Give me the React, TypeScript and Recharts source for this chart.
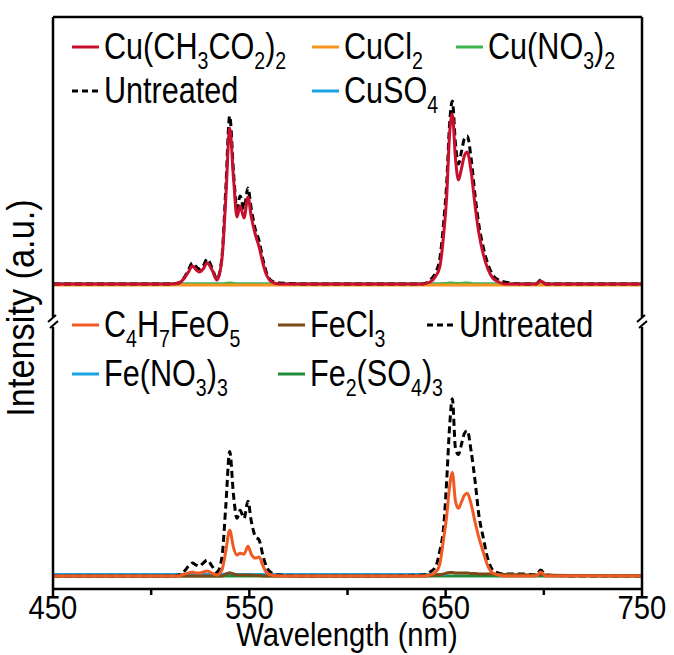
import { LineChart, Line, XAxis, YAxis, ReferenceLine } from "recharts";

// wavelength grid (nm)
const wavelength = [
  450, 480, 510, 514, 517, 519, 521, 523, 524.5, 526.5, 528.5, 531, 533.5, 536, 538, 540,
  542, 543.7, 545.3, 547.3, 549.3, 551, 553, 555, 557, 559, 561.5, 565, 580, 610, 638, 642,
  645, 647, 649, 650.5, 652, 653.4, 655, 656.5, 658, 659.5, 661, 663, 665, 667, 669, 671.5,
  674, 677, 680, 690, 696, 698.4, 701, 720, 750,
];

// top panel: Cu salts
const cuAcetate = [
  0, 0, 0, 1, 6, 12, 18, 14, 12, 15, 21, 14, 4, 24, 85, 156,
  104, 67, 78, 66, 87, 67, 50, 37, 20, 8, 2, 0, 0, 0, 0, 2,
  8, 17, 50, 87, 150, 170, 125, 104, 115, 128, 132, 112, 78, 50, 31, 15,
  6, 2, 0, 0, 0, 3, 0, 0, 0,
];
const cuChloride = [
  -1, -1, -1, -1, -1, -1, -1, -1, -1, -1, -1, -1, -1, -1, -1, -1,
  -1, -1, -1, -1, -1, -1, -1, -1, -1, -1, -1, -1, -1, -1, -1, -1,
  -1, -1, -1, -1, -1, -1, -1, -1, -1, -1, -1, -1, -1, -1, -1, -1,
  -1, -1, -1, -1, -1, -1, -1, -1, -1,
];
const cuNitrate = [
  0, 0, 0, 0, 0, 0, 0, 0, 0, 0, 0, 0, 0, 0, 0.5, 1,
  0.5, 0, 0, 0, 0, 0, 0, 0, 0, 0, 0, 0, 0, 0, 0, 0,
  0, 0, 0.5, 0.5, 1, 1, 0.5, 0.5, 0.5, 1, 1, 0.5, 0, 0, 0, 0,
  0, 0, 0, 0, 0, 0, 0, 0, 0,
];
const cuSulfate = [
  0, 0, 0, 0, 0, 0, 0, 0, 0, 0, 0, 0, 0, 0, 0, 0,
  0, 0, 0, 0, 0, 0, 0, 0, 0, 0, 0, 0, 0, 0, 0, 0,
  0, 0, 0, 0, 0, 0, 0, 0, 0, 0, 0, 0, 0, 0, 0, 0,
  0, 0, 0, 0, 0, 0, 0, 0, 0,
];
const cuUntreated = [
  0, 0, 0, 1, 7, 14, 21, 17, 15, 18, 25, 16, 5, 26, 95, 168,
  110, 75, 88, 75, 96, 75, 55, 43, 24, 10, 3, 1, 0, 0, 0, 4,
  12, 25, 62, 100, 160, 183, 140, 120, 132, 145, 148, 125, 88, 58, 38, 20,
  9, 4, 2, 0, 0, 4, 0, 0, 0,
];

// bottom panel: Fe salts
const feMalate = [
  0, 0, 0, 0, 2, 3, 4, 3, 3, 4, 5, 3, 1, 6, 25, 46,
  28, 21, 23, 22, 30, 22, 18, 19, 10, 3, 1, 0, 0, 0, 0, 1,
  4, 12, 38, 60, 90, 104, 75, 68, 74, 81, 83, 72, 54, 38, 25, 10,
  3, 1, 0, 0, 0, 4, 0, 0, 0,
];
const feChloride = [
  0, 0, 0, 0, 0, 0, 0, 0, 0, 0, 0, 0, 0, 0, 2, 3,
  2, 1, 1, 1, 1, 1, 0.5, 0.5, 0, 0, 0, 0, 0, 0, 0, 0.5,
  1, 1.5, 2, 3, 3.5, 3.5, 3, 3, 3, 3, 3, 2.5, 2.5, 2, 2, 2,
  2, 1.5, 1.5, 1.2, 1, 1.5, 1, 0.5, 0.3,
];
const feNitrate = [
  1.5, 1.5, 1.5, 1.5, 1.5, 1.5, 1.5, 1.5, 1.5, 1.5, 1.5, 1.5, 1.5, 1.5, 2, 3,
  2, 1.5, 1.5, 1.5, 1.5, 1.5, 1.5, 1.5, 1.5, 1.5, 1.5, 1.5, 1.5, 1.5, 1.5, 1.5,
  1.5, 1.5, 1.5, 1.5, null, null, null, null, null, null, null, null, null, null, null, null,
  null, null, null, null, null, null, null, null, null,
];
const feSulfate = [
  0, 0, 0, 0, 0, 0, 0, 0, 0, 0, 0, 0, 0, 0, 0, 0,
  0, 0, 0, 0, 0, 0, 0, 0, 0, 0, 0, 0, 0, 0, 0, 0,
  0, 0, 0, 0, 0, 0, 0, 0, 0, 0, 0, 0, 0, 0, 0, 0,
  0, 0, 0, 0, 0, 0, 0, 0, 0,
];
const feUntreated = [
  0, 0, 0, 1, 5, 10, 13, 11, 10, 13, 16, 10, 4, 18, 70, 125,
  80, 58, 66, 58, 75, 55, 40, 36, 20, 8, 3, 1, 0, 0, 1, 4,
  10, 25, 50, 95, 150, 178, 128, 122, 132, 143, 146, 125, 95, 60, 40, 17,
  6, 3, 2, 2, 1, 6, 1, 0, 0,
];

const xTicks = [450, 500, 550, 600, 650, 700, 750];
const topDomain = [-36, 267];
const bottomDomain = [-13, 251];

const topData = wavelength.map((w, i) => ({
  w,
  cuAcetate: cuAcetate[i],
  cuChloride: cuChloride[i],
  cuNitrate: cuNitrate[i],
  cuSulfate: cuSulfate[i],
  cuUntreated: cuUntreated[i],
}));

const bottomData = wavelength.map((w, i) => ({
  w,
  feMalate: feMalate[i],
  feChloride: feChloride[i],
  feNitrate: feNitrate[i],
  feSulfate: feSulfate[i],
  feUntreated: feUntreated[i],
}));

const FONT = '"Liberation Sans", Arial, sans-serif';
const SQUEEZE = 0.86; // the figure uses a narrow sans face

function XTick(props: any) {
  const { x, y, payload } = props;
  const major = (payload.value - 450) % 100 === 0;
  return (
    <g>
      <line x1={x} x2={x} y1={y} y2={y + (major ? 8 : 6)} stroke="#000" strokeWidth={2.5} />
      {major && (
        <text
          transform={`translate(${x},${y + 30}) scale(${SQUEEZE},1)`}
          textAnchor="middle"
          fontSize={34}
          fontFamily={FONT}
          fill="#000"
        >
          {payload.value}
        </text>
      )}
    </g>
  );
}

function Sub({ children }: { children: any }) {
  return (
    <span style={{ fontSize: 23, lineHeight: 0.7, display: "inline-block", position: "relative", top: 10 }}>
      {children}
    </span>
  );
}

function LegendItem({ left, top, color, dashed, children }: any) {
  return (
    <div
      style={{
        position: "absolute",
        left,
        top: top - 18,
        height: 36,
        display: "flex",
        alignItems: "center",
        fontFamily: FONT,
        fontSize: 36,
        lineHeight: 1,
        whiteSpace: "nowrap",
        color: "#000",
      }}
    >
      <svg width={27} height={6} style={{ marginRight: 5 }}>
        <line
          x1={0}
          x2={27}
          y1={3}
          y2={3}
          stroke={color}
          strokeWidth={3}
          strokeDasharray={dashed ? "6 4" : undefined}
        />
      </svg>
      <span style={{ display: "inline-block", transform: "scaleX(0.85)", transformOrigin: "left center" }}>
        {children}
      </span>
    </div>
  );
}

function BreakMark({ x, y }: { x: number; y: number }) {
  return (
    <g stroke="#000" strokeWidth={2}>
      <line x1={x - 5} y1={y + 1} x2={x + 3} y2={y - 6} />
      <line x1={x - 3} y1={y + 7} x2={x + 5} y2={y} />
    </g>
  );
}

const frame = { stroke: "#000", strokeWidth: 2.5 };

export default function App() {
  return (
    <div style={{ position: "absolute", left: 0, top: 0, width: 674, height: 655, background: "#fff" }}>
      {/* top panel */}
      <div style={{ position: "absolute", left: 0, top: 0 }}>
        <LineChart width={674} height={330} data={topData} margin={{ top: 17, right: 32, bottom: 10, left: 53 }}>
          <XAxis dataKey="w" type="number" domain={[450, 750]} hide />
          <YAxis domain={topDomain} hide />
          <Line dataKey="cuSulfate" stroke="#1AA3E0" strokeWidth={3} dot={false} type="monotone" isAnimationActive={false} />
          <Line dataKey="cuNitrate" stroke="#3AB54A" strokeWidth={3} dot={false} type="monotone" isAnimationActive={false} />
          <Line dataKey="cuChloride" stroke="#F7941D" strokeWidth={3} dot={false} type="monotone" isAnimationActive={false} />
          <Line dataKey="cuUntreated" stroke="#000" strokeWidth={3} strokeDasharray="7 4" dot={false} type="monotone" isAnimationActive={false} />
          <Line dataKey="cuAcetate" stroke="#C8102E" strokeWidth={3} dot={false} type="monotone" isAnimationActive={false} />
          <ReferenceLine x={450} {...frame} />
          <ReferenceLine x={750} {...frame} />
          <ReferenceLine y={topDomain[1]} {...frame} />
        </LineChart>
      </div>

      {/* bottom panel */}
      <div style={{ position: "absolute", left: 0, top: 320 }}>
        <LineChart width={674} height={335} data={bottomData} margin={{ top: 6, right: 32, bottom: 26, left: 53 }}>
          <XAxis
            dataKey="w"
            type="number"
            domain={[450, 750]}
            ticks={xTicks}
            height={40}
            tickSize={0}
            tickMargin={0}
            tickLine={false}
            tick={<XTick />}
            axisLine={false}
            interval={0}
          />
          <YAxis domain={bottomDomain} hide />
          <Line dataKey="feSulfate" stroke="#1E8B3A" strokeWidth={3} dot={false} type="monotone" isAnimationActive={false} />
          <Line dataKey="feNitrate" stroke="#1AA3E0" strokeWidth={3} dot={false} type="monotone" isAnimationActive={false} />
          <Line dataKey="feUntreated" stroke="#000" strokeWidth={3} strokeDasharray="7 4" dot={false} type="monotone" isAnimationActive={false} />
          <Line dataKey="feChloride" stroke="#7B4A17" strokeWidth={3} dot={false} type="monotone" isAnimationActive={false} />
          <Line dataKey="feMalate" stroke="#F15A22" strokeWidth={3} dot={false} type="monotone" isAnimationActive={false} />
          <ReferenceLine x={450} {...frame} />
          <ReferenceLine x={750} {...frame} />
          <ReferenceLine y={bottomDomain[0]} {...frame} />
        </LineChart>
      </div>

      {/* axis break marks and titles */}
      <svg width={674} height={655} style={{ position: "absolute", left: 0, top: 0, pointerEvents: "none" }}>
        <rect x={48} y={317} width={10} height={10} fill="#fff" />
        <rect x={637} y={317} width={10} height={10} fill="#fff" />
        <BreakMark x={53} y={321} />
        <BreakMark x={642} y={321} />
        <text
          transform={`translate(347,646) scale(${SQUEEZE},1)`}
          textAnchor="middle"
          fontSize={34}
          fontFamily={FONT}
          fill="#000"
        >
          Wavelength (nm)
        </text>
        <text
          transform={`translate(34,308) rotate(-90) scale(0.88,1)`}
          textAnchor="middle"
          fontSize={39}
          fontFamily={FONT}
          fill="#000"
        >
          Intensity (a.u.)
        </text>
      </svg>

      {/* legends */}
      <LegendItem left={72} top={47} color="#C8102E">
        Cu(CH<Sub>3</Sub>CO<Sub>2</Sub>)<Sub>2</Sub>
      </LegendItem>
      <LegendItem left={312} top={47} color="#F7941D">
        CuCl<Sub>2</Sub>
      </LegendItem>
      <LegendItem left={456} top={47} color="#3AB54A">
        Cu(NO<Sub>3</Sub>)<Sub>2</Sub>
      </LegendItem>
      <LegendItem left={72} top={91} color="#000" dashed>
        Untreated
      </LegendItem>
      <LegendItem left={312} top={91} color="#1AA3E0">
        CuSO<Sub>4</Sub>
      </LegendItem>

      <LegendItem left={72} top={325} color="#F15A22">
        C<Sub>4</Sub>H<Sub>7</Sub>FeO<Sub>5</Sub>
      </LegendItem>
      <LegendItem left={278} top={325} color="#7B4A17">
        FeCl<Sub>3</Sub>
      </LegendItem>
      <LegendItem left={427} top={325} color="#000" dashed>
        Untreated
      </LegendItem>
      <LegendItem left={72} top={374} color="#1AA3E0">
        Fe(NO<Sub>3</Sub>)<Sub>3</Sub>
      </LegendItem>
      <LegendItem left={278} top={374} color="#1E8B3A">
        Fe<Sub>2</Sub>(SO<Sub>4</Sub>)<Sub>3</Sub>
      </LegendItem>
    </div>
  );
}
